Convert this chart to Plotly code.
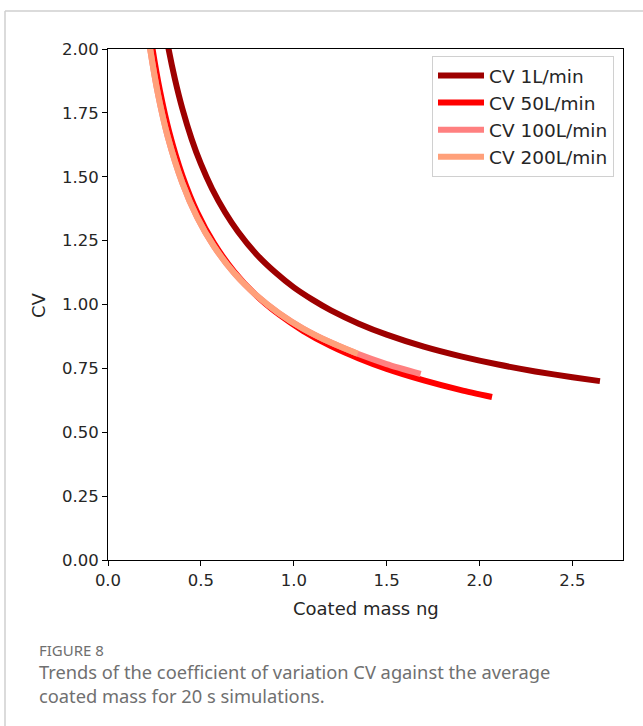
import plotly.graph_objects as go

# Coated mass (ng) and coefficient of variation for each flow rate
mass_1 = [0.30, 0.326, 0.36, 0.40, 0.45, 0.50, 0.56, 0.63, 0.70, 0.80, 0.90, 1.00,
          1.10, 1.20, 1.35, 1.50, 1.70, 1.90, 2.10, 2.30, 2.50, 2.648]
cv_1 = [2.107, 2.000, 1.883, 1.767, 1.648, 1.550, 1.453, 1.361, 1.285, 1.196, 1.126, 1.067,
        1.019, 0.977, 0.925, 0.882, 0.835, 0.797, 0.765, 0.738, 0.715, 0.700]

mass_50 = [0.21, 0.24, 0.28, 0.33, 0.40, 0.48, 0.57, 0.68, 0.80, 0.92, 1.05, 1.20,
           1.35, 1.50, 1.70, 1.90, 2.067]
cv_50 = [2.158, 2.000, 1.835, 1.674, 1.505, 1.361, 1.240, 1.128, 1.034, 0.961, 0.897, 0.837,
         0.789, 0.748, 0.703, 0.665, 0.638]

mass_100 = [0.20, 0.227, 0.27, 0.32, 0.40, 0.48, 0.57, 0.68, 0.80, 0.92, 1.05, 1.20,
            1.344, 1.50, 1.683]
cv_100 = [2.143, 2.000, 1.820, 1.661, 1.476, 1.341, 1.228, 1.122, 1.035, 0.966, 0.906, 0.851,
          0.807, 0.767, 0.728]

mass_200 = [0.20, 0.227, 0.27, 0.32, 0.40, 0.48, 0.57, 0.68, 0.80, 0.92, 1.05, 1.20, 1.344]
cv_200 = [2.143, 2.000, 1.820, 1.661, 1.476, 1.341, 1.228, 1.122, 1.035, 0.966, 0.906, 0.851,
          0.807]

series = [
    ("CV 1L/min", mass_1, cv_1, "#9e0000"),
    ("CV 50L/min", mass_50, cv_50, "#ff0000"),
    ("CV 100L/min", mass_100, cv_100, "#ff8080"),
    ("CV 200L/min", mass_200, cv_200, "#ffa07a"),
]

x_ticks = [0.0, 0.5, 1.0, 1.5, 2.0, 2.5]
y_ticks = [0.0, 0.25, 0.5, 0.75, 1.0, 1.25, 1.5, 1.75, 2.0]

W, H = 643, 726
L, R, T, B = 108, 20, 49, 166
PW, PH = W - L - R, H - T - B


def px_x(px):
    return (px - L) / PW


def px_y(py):
    return (H - B - py) / PH


FONT = "DejaVu Sans"
fig = go.Figure()
for name, xs, ys, col in series:
    fig.add_trace(go.Scatter(
        x=xs, y=ys, mode="lines", name=name,
        line=dict(color=col, width=6, shape="spline", smoothing=0.6),
    ))

axis_common = dict(
    showline=True, linecolor="black", linewidth=1, mirror=True,
    ticks="outside", ticklen=5, tickcolor="black", tickwidth=1,
    showgrid=False, zeroline=False,
    tickfont=dict(family=FONT, size=16.5, color="#262626"),
)
fig.update_xaxes(range=[0, 2.772], tickvals=x_ticks,
                 ticktext=[f"{v:.1f}" for v in x_ticks], **axis_common)
fig.update_yaxes(range=[0, 2.0], tickvals=y_ticks,
                 ticktext=[f"{v:.2f}" for v in y_ticks], **axis_common)

annotations = [
    dict(text="Coated mass ng", x=px_x(366), y=px_y(608), xref="paper", yref="paper",
         showarrow=False, font=dict(family=FONT, size=18, color="#262626"),
         xanchor="center", yanchor="middle"),
    dict(text="CV", x=px_x(38), y=px_y(305), xref="paper", yref="paper",
         showarrow=False, textangle=-90, font=dict(family=FONT, size=18, color="#262626"),
         xanchor="center", yanchor="middle"),
    dict(text="FIGURE 8", x=px_x(38), y=px_y(650), xref="paper", yref="paper",
         showarrow=False, borderpad=0, font=dict(family="Noto Sans", size=15, color="#6f6f6f"),
         xanchor="left", yanchor="middle"),
    dict(text="Trends of the coefficient of variation CV against the average<br>"
              "coated mass for 20 s simulations.",
         x=px_x(38), y=px_y(683), xref="paper", yref="paper",
         showarrow=False, borderpad=0, align="left",
         font=dict(family="Noto Sans", size=18.3, color="#707070"),
         xanchor="left", yanchor="middle"),
]

shapes = [
    dict(type="line", xref="paper", yref="paper", x0=px_x(5), x1=px_x(643),
         y0=px_y(11), y1=px_y(11), line=dict(color="#cfcfcf", width=1.5)),
    dict(type="line", xref="paper", yref="paper", x0=px_x(5), x1=px_x(5),
         y0=px_y(11), y1=px_y(726), line=dict(color="#cfcfcf", width=1.5)),
]

fig.update_layout(
    width=W, height=H,
    margin=dict(l=L, r=R, t=T, b=B),
    paper_bgcolor="white", plot_bgcolor="white",
    annotations=annotations, shapes=shapes,
    legend=dict(
        x=px_x(614), y=px_y(56), xanchor="right", yanchor="top",
        bgcolor="white", bordercolor="#d0d0d0", borderwidth=1,
        itemwidth=46,
        font=dict(family=FONT, size=18.5, color="#262626"),
    ),
    showlegend=True,
)

fig.write_html("out.html")
